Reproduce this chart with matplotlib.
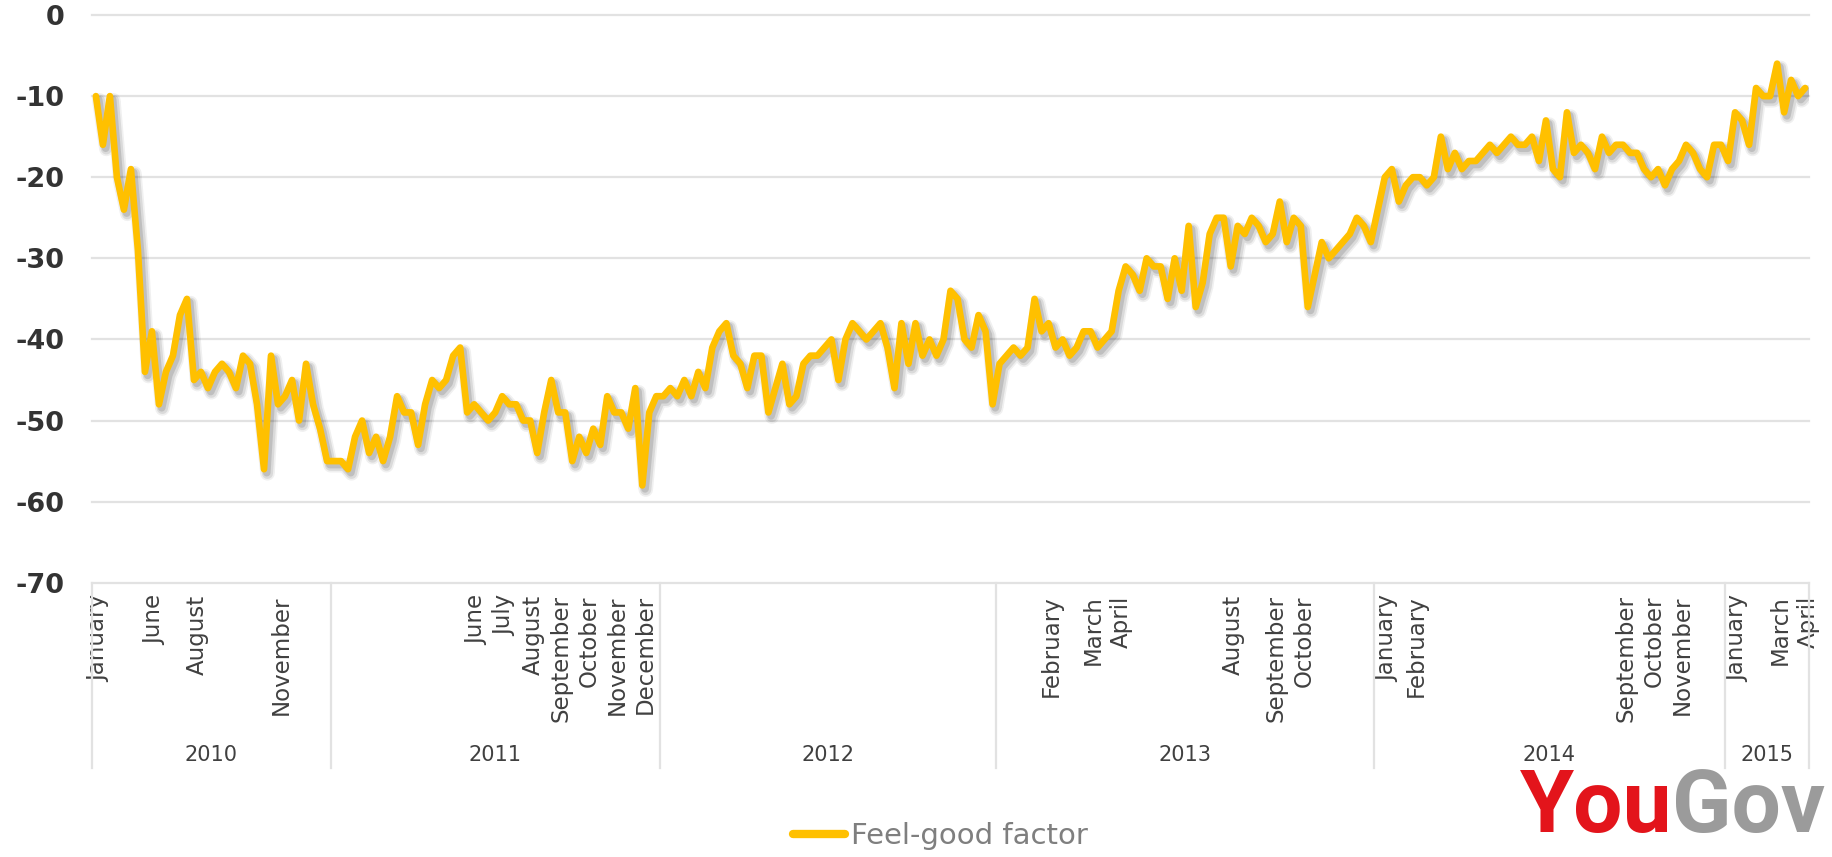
import numpy as np
import matplotlib.pyplot as plt
import matplotlib.patheffects as pe
import matplotlib.transforms as mtransforms

plt.rcParams['axes.unicode_minus'] = False

# Weekly YouGov feel-good factor, Jan 2010 - Apr 2015
feel_good = [
    -10, -16, -10, -20, -24, -19, -29, -44, -39, -48,
    -44, -42, -37, -35, -45, -44, -46, -44, -43, -44,
    -46, -42, -43, -48, -56, -42, -48, -47, -45, -50,
    -43, -48, -51, -55, -55, -55, -56, -52, -50, -54,
    -52, -55, -52, -47, -49, -49, -53, -48, -45, -46,
    -45, -42, -41, -49, -48, -49, -50, -49, -47, -48,
    -48, -50, -50, -54, -49, -45, -49, -49, -55, -52,
    -54, -51, -53, -47, -49, -49, -51, -46, -58, -49,
    -47, -47, -46, -47, -45, -47, -44, -46, -41, -39,
    -38, -42, -43, -46, -42, -42, -49, -46, -43, -48,
    -47, -43, -42, -42, -41, -40, -45, -40, -38, -39,
    -40, -39, -38, -41, -46, -38, -43, -38, -42, -40,
    -42, -40, -34, -35, -40, -41, -37, -39, -48, -43,
    -42, -41, -42, -41, -35, -39, -38, -41, -40, -42,
    -41, -39, -39, -41, -40, -39, -34, -31, -32, -34,
    -30, -31, -31, -35, -30, -34, -26, -36, -33, -27,
    -25, -25, -31, -26, -27, -25, -26, -28, -27, -23,
    -28, -25, -26, -36, -32, -28, -30, -29, -28, -27,
    -25, -26, -28, -24, -20, -19, -23, -21, -20, -20,
    -21, -20, -15, -19, -17, -19, -18, -18, -17, -16,
    -17, -16, -15, -16, -16, -15, -18, -13, -19, -20,
    -12, -17, -16, -17, -19, -15, -17, -16, -16, -17,
    -17, -19, -20, -19, -21, -19, -18, -16, -17, -19,
    -20, -16, -16, -18, -12, -13, -16, -9, -10, -10,
    -6, -12, -8, -10, -9,
]

years = ['2010', '2011', '2012', '2013', '2014', '2015']
year_counts = [34, 47, 48, 54, 50, 12]

month_labels = ['January', 'June', 'August', 'November',
                'June', 'July', 'August', 'September', 'October', 'November', 'December',
                'February', 'March', 'April', 'August', 'September', 'October',
                'January', 'February', 'September', 'October', 'November',
                'January', 'March', 'April']
month_pos = [0, 8, 14, 26,
             54, 58, 62, 66, 70, 74, 78,
             136, 142, 146, 162, 168, 172,
             184, 188, 218, 222, 226,
             234, 240, 244]

GOLD = '#FFC000'
GRID = '#e2e2e2'
TEXT = '#404040'

fig = plt.figure(figsize=(18.33, 8.57), dpi=100)
ax = fig.add_axes([0.0504, 0.320, 0.9363, 0.6625])

x = np.arange(len(feel_good))
shadow = [
    pe.SimpleLineShadow(offset=(2.5, -3), shadow_color='k', alpha=0.06, linewidth=10.5),
    pe.SimpleLineShadow(offset=(2.5, -3), shadow_color='k', alpha=0.09, linewidth=8),
    pe.SimpleLineShadow(offset=(2, -2.5), shadow_color='k', alpha=0.12, linewidth=5.5),
    pe.Normal(),
]
ax.plot(x, feel_good, color=GOLD, lw=4.8, solid_joinstyle='round',
        solid_capstyle='round', label='Feel-good factor', path_effects=shadow)

ax.set_xlim(-0.5, len(feel_good) - 0.5)
ax.set_ylim(-70, 0)
ax.set_yticks(range(-70, 1, 10))
ax.grid(axis='y', color=GRID, lw=1.6)
for gl in ax.yaxis.get_gridlines():
    gl.set_clip_on(False)
ax.set_axisbelow(True)
for s in ax.spines.values():
    s.set_visible(False)

ax.tick_params(axis='y', length=0, pad=20, labelsize=19.5, labelcolor='#333333')
for t in ax.get_yticklabels():
    t.set_fontweight('bold')

ax.set_xticks(month_pos)
ax.set_xticklabels(month_labels, rotation=90, fontsize=16.5, color=TEXT)
ax.tick_params(axis='x', length=0, pad=9)
# nudge the month names a little to the right of their week
nudge = mtransforms.ScaledTranslation(3 / 100, 0, fig.dpi_scale_trans)
for t in ax.get_xticklabels():
    t.set_transform(t.get_transform() + nudge)

# year groups under the month labels
trans = mtransforms.blended_transform_factory(ax.transData, ax.transAxes)
bounds = np.concatenate([[0], np.cumsum(year_counts)]) - 0.5
for b in bounds:
    ax.plot([b, b], [0, -0.327], transform=trans, color=GRID, lw=1.6, clip_on=False)
for k, yr in enumerate(years):
    ax.text((bounds[k] + bounds[k + 1]) / 2, -0.304, yr, transform=trans,
            ha='center', va='center', fontsize=15, color=TEXT)

leg = ax.legend(loc='center', bbox_to_anchor=(0.513, 0.024), bbox_transform=fig.transFigure,
                frameon=False, fontsize=21, handlelength=1.8, handletextpad=0.2,
                labelcolor='#7f7f7f')
for ln in leg.get_lines():
    ln.set_path_effects([])
    ln.set_linewidth(6)

# logo
logo_font = ['Roboto', 'DejaVu Sans']
you = fig.text(0.829, 0.029, 'You', fontsize=63, fontweight='bold', color='#E3141B',
               family=logo_font, ha='left', va='baseline')
ax.annotate('Gov', xy=(1, 0), xycoords=you, ha='left', va='bottom', fontsize=63,
            fontweight='bold', color='#9B9B9B', family=logo_font)

fig.savefig('out.png', dpi=100)
